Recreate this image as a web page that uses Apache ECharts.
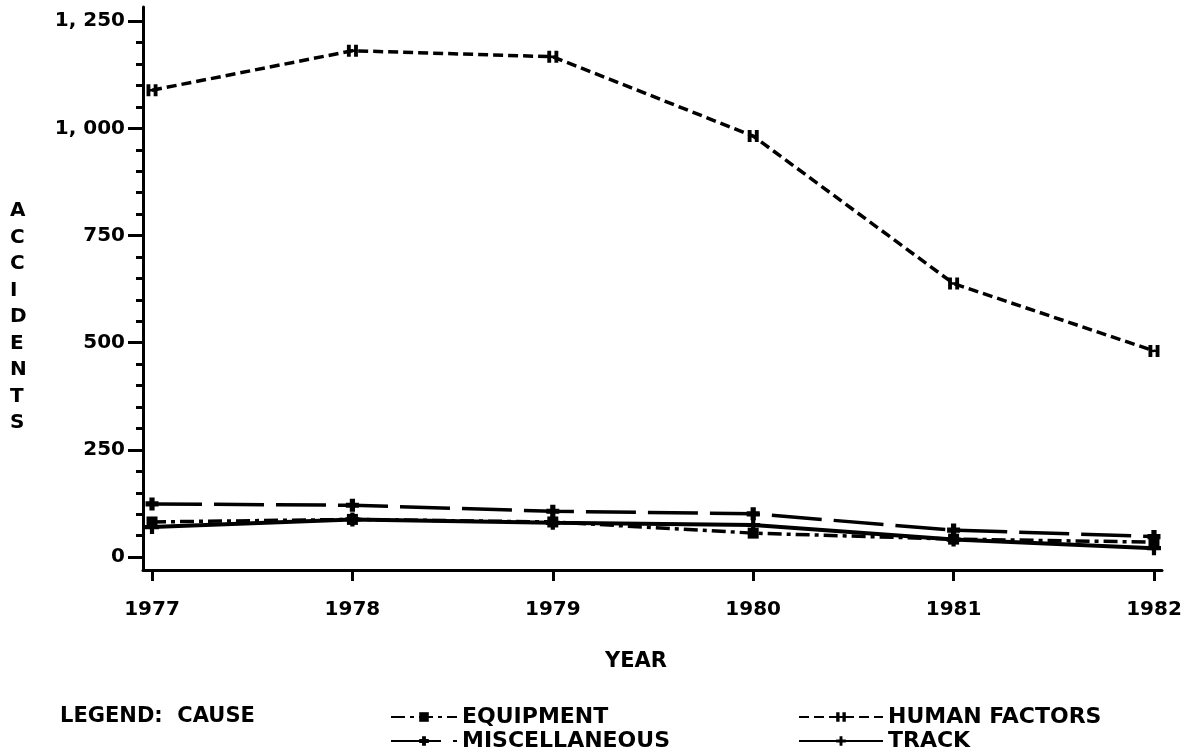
<!DOCTYPE html>
<html>
<head>
<meta charset="utf-8">
<script src="https://cdn.jsdelivr.net/npm/echarts@6/dist/echarts.min.js"></script>
<style>
html,body{margin:0;padding:0;background:#fff;}
#chart{width:1192px;height:756px;}
</style>
</head>
<body>
<div id="chart"></div>
<script>
// ---- data ----
const years = [1977, 1978, 1979, 1980, 1981, 1982];
const equipment = [82, 88, 82, 56, 42, 35];
const humanFactors = [1089, 1181, 1167, 982, 638, 481];
const miscellaneous = [124, 121, 107, 101, 63, 48];
const track = [70, 88, 80, 75, 41, 21];
const yLabelTicks = [0, 250, 500, 750, 1000, 1250];
const yMinorTicks = [0, 50, 100, 150, 200, 250, 300, 350, 400, 450, 500, 550, 600, 650, 700, 750, 800, 850, 900, 950, 1000, 1050, 1100, 1150, 1200, 1250];
const xTicks = [1977, 1978, 1979, 1980, 1981, 1982];
const seriesNames = ['EQUIPMENT', 'HUMAN FACTORS', 'MISCELLANEOUS', 'TRACK'];

// ---- style ----
const FONT = 'DejaVu Sans';
const INK = '#000';
const pts = arr => years.map((y, i) => [y, arr[i]]);
const symH = 'path://M0,0H3.5V4H6.5V0H10V10H6.5V6H3.5V10H0Z';
const symPlus = 'path://M3.5,0H6.5V3.5H10V6.5H6.5V10H3.5V6.5H0V3.5H3.5Z';
const symStar = 'path://M3,0H7V3H10V7H7V10H3V7H0V3H3Z';

const chart = echarts.init(document.getElementById('chart'), null, {renderer: 'canvas'});

function fmtY(v) {
  if (v >= 1000) {
    const t = Math.floor(v / 1000);
    const r = String(v % 1000).padStart(3, '0');
    return t + ', ' + r;
  }
  return String(v);
}

const legendBase = {
  orient: 'horizontal',
  padding: 0,
  itemGap: 0,
  itemWidth: 66,
  itemHeight: 12,
  selectedMode: false,
  textStyle: {fontFamily: FONT, fontWeight: 'bold', fontSize: 22, color: INK}
};

chart.setOption({
  backgroundColor: '#fff',
  animation: false,
  grid: {left: 143, right: 30, top: 7, bottom: 186, containLabel: false},
  xAxis: {
    type: 'value',
    min: 1976.955,
    max: 1982.04,
    axisLine: {show: true, onZero: false, lineStyle: {color: INK, width: 3}},
    axisTick: {show: true, length: 11, customValues: xTicks, lineStyle: {color: INK, width: 3}},
    axisLabel: {
      show: true, customValues: xTicks, margin: 30,
      formatter: v => String(v),
      fontFamily: FONT, fontWeight: 'bold', fontSize: 20, color: INK
    },
    splitLine: {show: false}
  },
  yAxis: [
    {
      type: 'value',
      min: -30,
      max: 1283,
      position: 'left',
      axisLine: {show: true, onZero: false, lineStyle: {color: INK, width: 3}},
      axisTick: {show: true, length: 7, customValues: yMinorTicks, lineStyle: {color: INK, width: 3}},
      axisLabel: {show: false},
      splitLine: {show: false}
    },
    {
      type: 'value',
      min: -30,
      max: 1283,
      position: 'left',
      axisLine: {show: false, onZero: false},
      axisTick: {show: true, length: 15, customValues: yLabelTicks, lineStyle: {color: INK, width: 3}},
      axisLabel: {
        show: true, customValues: yLabelTicks, margin: 18,
        formatter: fmtY,
        fontFamily: FONT, fontWeight: 'bold', fontSize: 20, color: INK
      },
      splitLine: {show: false}
    }
  ],
  legend: [
    Object.assign({}, legendBase, {data: [seriesNames[0]], left: 390, top: 706}),
    Object.assign({}, legendBase, {data: [seriesNames[1]], left: 798, top: 706, itemWidth: 84}),
    Object.assign({}, legendBase, {data: [seriesNames[2]], left: 390, top: 730}),
    Object.assign({}, legendBase, {data: [seriesNames[3]], left: 798, top: 730, itemWidth: 84})
  ],
  graphic: [
    {
      type: 'text', left: 10, top: 198,
      style: {
        text: 'A\nC\nC\nI\nD\nE\nN\nT\nS',
        font: 'bold 20px "DejaVu Sans"', fill: INK, lineHeight: 26.5, align: 'center'
      }
    },
    {
      type: 'text', x: 636, y: 662,
      style: {text: 'YEAR', font: 'bold 21px "DejaVu Sans"', fill: INK, align: 'center', verticalAlign: 'middle'}
    },
    {
      type: 'text', left: 60, top: 706,
      style: {text: 'LEGEND:  CAUSE', font: 'bold 21px "DejaVu Sans"', fill: INK}
    }
  ],
  series: [
    {
      name: seriesNames[0], type: 'line', yAxisIndex: 0, data: pts(equipment),
      symbol: 'rect', symbolSize: 11, showSymbol: true,
      lineStyle: {color: INK, width: 3.5, type: [14, 5, 4, 5]},
      itemStyle: {color: INK}
    },
    {
      name: seriesNames[1], type: 'line', yAxisIndex: 0, data: pts(humanFactors),
      symbol: symH, symbolSize: [11, 12], showSymbol: true,
      lineStyle: {color: INK, width: 3.5, type: [10, 5]},
      itemStyle: {color: INK}
    },
    {
      name: seriesNames[2], type: 'line', yAxisIndex: 0, data: pts(miscellaneous),
      symbol: symStar, symbolSize: 13, showSymbol: true,
      lineStyle: {color: INK, width: 3.5, type: [50, 12]},
      itemStyle: {color: INK}
    },
    {
      name: seriesNames[3], type: 'line', yAxisIndex: 0, data: pts(track),
      symbol: symPlus, symbolSize: 14, showSymbol: true,
      lineStyle: {color: INK, width: 4, type: 'solid'},
      itemStyle: {color: INK}
    }
  ]
});
</script>
</body>
</html>
